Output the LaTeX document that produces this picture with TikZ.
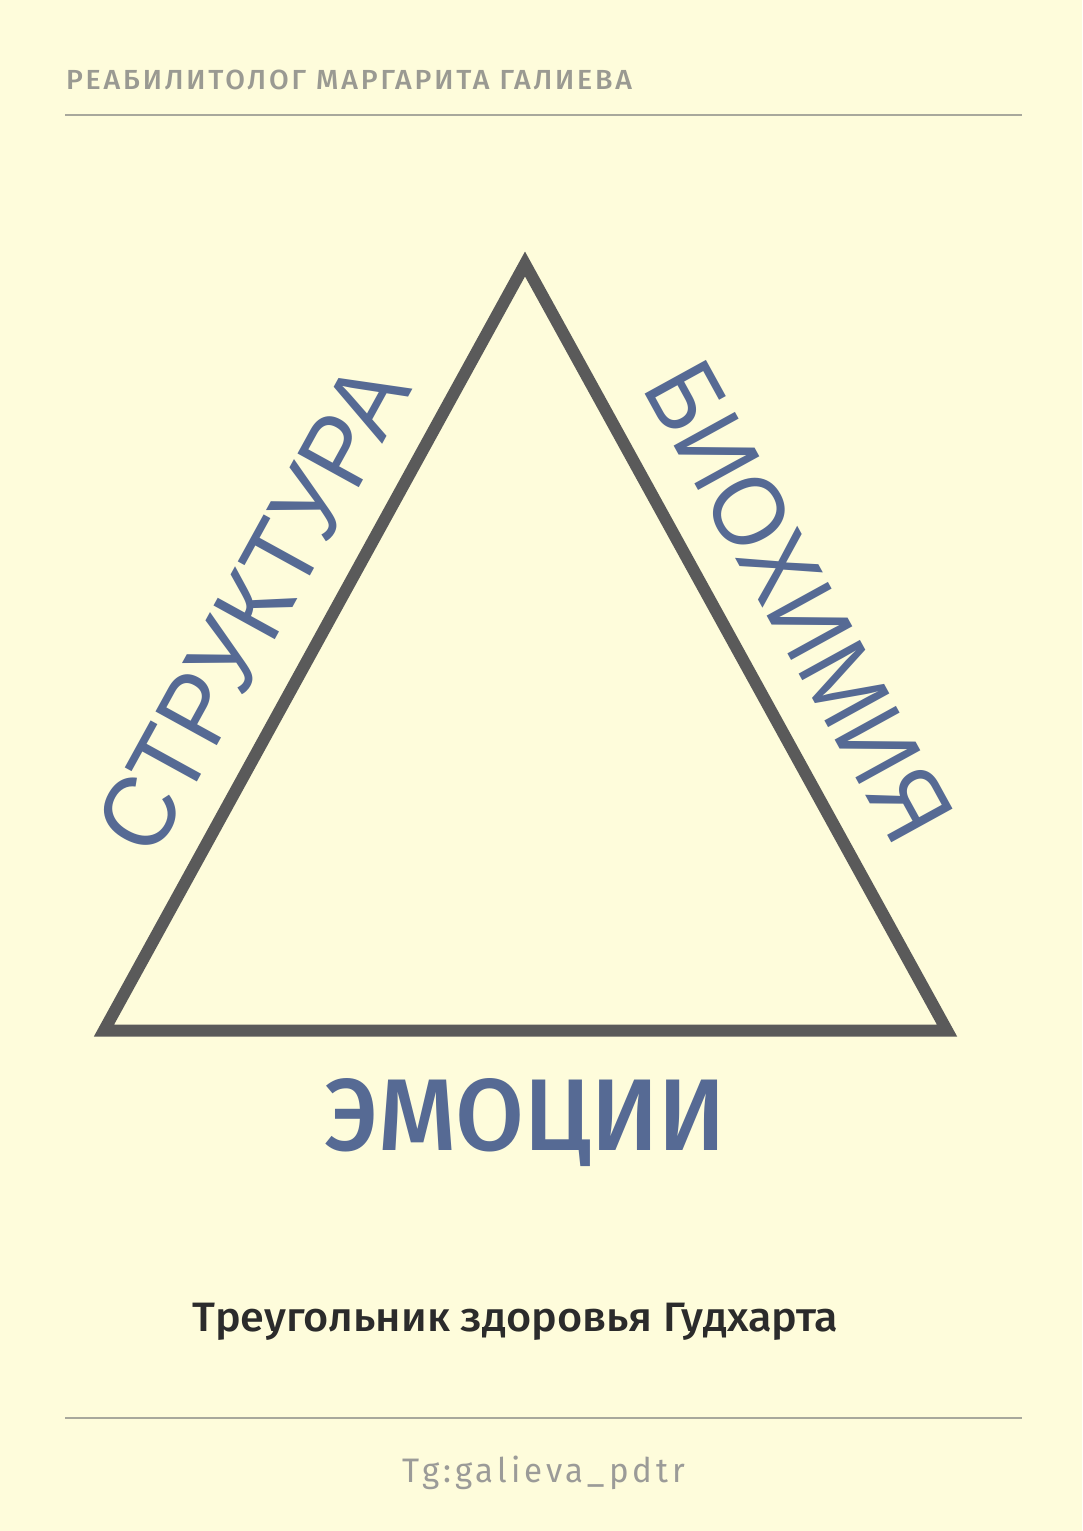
\documentclass[tikz,border=0pt]{standalone}
\usepackage{fontspec}
\usepackage{graphicx}
\setmainfont{Liberation Sans}
\newfontfamily\dinfont{Fira Sans}
\newfontfamily\dinmed{Fira Sans Medium}
\newfontfamily\dintitle{Fira Sans Medium}
\newfontfamily\dinspaced{Fira Sans}[LetterSpace=12]
\newfontfamily\dinhead{Fira Sans Medium}[LetterSpace=10]
\newfontfamily\arialfont{Liberation Sans}
\definecolor{bgcol}{HTML}{FEFCDB}
\definecolor{bluetxt}{HTML}{566A94}
\definecolor{trigray}{HTML}{5A5A5A}
\definecolor{headgray}{HTML}{9A9A92}
\definecolor{rulegray}{HTML}{A8A89C}
\definecolor{titledark}{HTML}{2B2B2B}
\definecolor{tggray}{HTML}{9B9B98}
\newlength\pxu
\setlength\pxu{0.75pt}
\tikzset{
  txt/.style={inner sep=0pt, outer sep=0pt},
  sidelabel/.style={txt, text=bluetxt, anchor=base},
  rulestyle/.style={draw=rulegray, line width=2.2\pxu},
  tri/.style={draw=trigray, line width=12\pxu, line join=miter}
}
\begin{document}
\begin{tikzpicture}[x=0.75pt,y=-0.75pt]
\fill[bgcol] (0,0) rectangle (1082,1531);
\useasboundingbox (0,0) rectangle (1082,1531);
% header
\node[txt, anchor=base west, text=headgray] (head) at (66,89.3)
  {\resizebox{566\pxu}{19.5\pxu}{\fontsize{21}{24}\dinhead РЕАБИЛИТОЛОГ МАРГАРИТА ГАЛИЕВА}};
\coordinate (r1a) at (65,115);
\coordinate (r1b) at (1022,115);
\draw[rulestyle] (r1a) -- (r1b);
% triangle
\coordinate (A) at (525,264);
\coordinate (B) at (104,1030.5);
\coordinate (C) at (947,1030.5);
\draw[tri] (A) -- (B) -- (C) -- cycle;
% side labels
\node[sidelabel, rotate=61.2] (struct) at (283.4,624.8)
  {\resizebox{539\pxu}{71\pxu}{\fontsize{72}{80}\arialfont СТРУКТУРА}};
\node[sidelabel, rotate=-61.2] (bio) at (768.3,618.3)
  {\resizebox{527\pxu}{71\pxu}{\fontsize{72}{80}\arialfont БИОХИМИЯ}};
\node[sidelabel] (emo) at (525.5,1150)
  {\resizebox{401\pxu}{72\pxu}{\fontsize{78}{80}\dinmed ЭМОЦИИ}};
% title
\node[txt, anchor=base, text=titledark] (title) at (515.3,1331.7)
  {\resizebox{646\pxu}{28.4\pxu}{\fontsize{31}{34}\dintitle Треугольник здоровья Гудхарта}};
% bottom rule
\coordinate (r2a) at (65,1418.3);
\coordinate (r2b) at (1022,1418.3);
\draw[rulestyle] (r2a) -- (r2b);
% tg
\node[txt, anchor=base, text=tggray] (tg) at (544,1482)
  {\resizebox{282\pxu}{26.5\pxu}{\fontsize{27}{30}\dinspaced Tg:galieva\_pdtr}};
\end{tikzpicture}
\end{document}
